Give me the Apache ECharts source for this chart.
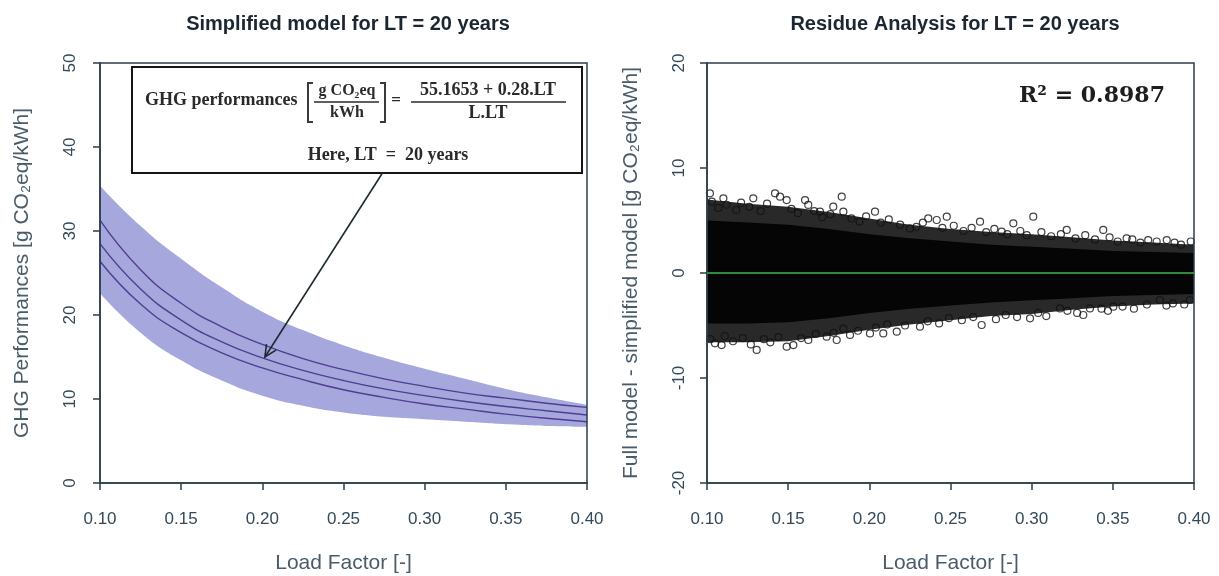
<!DOCTYPE html>
<html>
<head>
<meta charset="utf-8">
<script src="https://cdn.jsdelivr.net/npm/echarts@6/dist/echarts.min.js"></script>
<style>html,body{margin:0;padding:0;background:#fff}#c{width:1219px;height:576px}</style>
</head>
<body>
<div id="c"></div>
<script>
// ---------- DATA ----------
const titleLeft = 'Simplified model for LT = 20 years';
const titleRight = 'Residue Analysis for LT = 20 years';
const xTitle = 'Load Factor [-]';
const yTitleLeft = 'GHG Performances [g CO\u2082eq/kWh]';
const yTitleRight = 'Full model - simplified model [g CO\u2082eq/kWh]';
const r2Text = 'R\u00B2 = 0.8987';

const loadFactor = [0.10,0.125,0.15,0.175,0.20,0.225,0.25,0.275,0.30,0.325,0.35,0.375,0.40];
const bandUpper = [35.4,30.6,26.7,23.3,20.4,18.2,16.4,14.9,13.6,12.4,11.2,10.2,9.3];
const bandLower = [22.6,17.9,14.6,12.2,10.4,9.2,8.4,7.9,7.6,7.3,7.0,6.8,6.7];
const lineTop   = [31.3,25.4,21.4,18.6,16.5,14.8,13.5,12.4,11.5,10.7,10.1,9.5,9.0];
const lineMid   = [28.5,23.1,19.4,16.8,14.9,13.4,12.2,11.2,10.4,9.7,9.1,8.6,8.1];
const lineLow   = [26.4,21.3,17.9,15.5,13.7,12.3,11.1,10.2,9.4,8.8,8.2,7.7,7.3];
const arrowFrom = [0.2743, 37.0];
const arrowTo   = [0.2016, 15.0];

// residual cloud: dense envelope + visible individual circles
const cloudOuterUpper = [7.0,6.6,6.3,5.8,5.2,4.6,4.2,3.9,3.7,3.4,3.1,2.9,2.7];
const cloudOuterLower = [-6.6,-6.6,-6.5,-6.0,-5.4,-4.9,-4.5,-4.1,-3.9,-3.5,-3.2,-3.0,-2.9];
const cloudCoreUpper  = [5.0,4.8,4.6,4.2,3.7,3.3,3.0,2.7,2.5,2.3,2.1,2.0,1.9];
const cloudCoreLower  = [-4.8,-4.8,-4.7,-4.3,-3.8,-3.4,-3.1,-2.8,-2.6,-2.4,-2.2,-2.1,-2.0];
const residualPoints = [
 [0.1018,7.59],[0.1101,7.11],[0.1285,7.11],[0.1419,7.59],[0.145,7.27],[0.1491,6.95],[0.1604,6.95],
 [0.1624,6.48],[0.1696,5.84],[0.1778,6.32],[0.183,7.27],[0.184,5.84],[0.2035,5.84],[0.225,4.25],
 [0.2363,5.2],[0.2415,5.05],[0.2477,5.36],[0.2682,4.89],[0.2815,3.94],[0.2887,4.73],[0.301,5.36],
 [0.3216,4.1],[0.3441,4.1],[0.3585,3.3],[0.3718,3.14],[0.3832,3.14],
 [0.1049,-6.7],[0.109,-6.86],[0.1306,-7.33],[0.1491,-7.02],[0.1532,-6.86],[0.1624,-6.38],[0.1737,-6.06],
 [0.1799,-6.38],[0.1881,-5.9],[0.2004,-5.75],[0.2086,-5.75],[0.2169,-5.59],[0.2312,-5.11],[0.2692,-4.95],
 [0.299,-4.32],[0.3174,-3.37],[0.3318,-4.0],[0.3359,-3.37],[0.3503,-3.21],[0.379,-2.57],[0.3975,-2.57],
 [0.103,6.8],[0.107,6.2],[0.112,6.5],[0.118,6.0],[0.121,6.7],[0.126,6.3],[0.133,5.9],[0.137,6.6],
 [0.152,6.1],[0.156,5.7],[0.166,5.9],[0.171,5.3],[0.176,5.6],[0.189,5.2],[0.194,4.9],[0.198,5.4],
 [0.207,4.8],[0.212,5.1],[0.219,4.6],[0.229,4.4],[0.233,4.8],[0.245,4.3],[0.252,4.5],[0.258,4.0],
 [0.263,4.3],[0.272,3.9],[0.277,4.2],[0.285,3.7],[0.293,4.0],[0.297,3.6],[0.306,3.9],[0.312,3.5],
 [0.318,3.7],[0.327,3.3],[0.333,3.6],[0.339,3.2],[0.348,3.4],[0.353,3.0],[0.362,3.2],[0.367,2.9],
 [0.377,3.0],[0.388,2.9],[0.392,2.7],[0.398,3.0],
 [0.102,-6.3],[0.111,-6.0],[0.116,-6.5],[0.122,-6.2],[0.127,-6.8],[0.135,-6.3],[0.139,-6.6],[0.144,-6.1],
 [0.158,-6.2],[0.167,-5.8],[0.178,-5.7],[0.184,-5.3],[0.193,-5.5],[0.204,-5.2],[0.211,-4.9],[0.222,-5.0],
 [0.236,-4.6],[0.243,-4.8],[0.249,-4.3],[0.257,-4.5],[0.264,-4.2],[0.278,-4.4],[0.284,-4.0],[0.291,-4.2],
 [0.304,-3.8],[0.309,-4.1],[0.322,-3.6],[0.328,-3.8],[0.343,-3.4],[0.347,-3.6],[0.356,-3.2],[0.363,-3.4],
 [0.371,-3.0],[0.383,-3.1],[0.387,-2.9],[0.394,-3.0]
];
const zeroLineX = [0.10, 0.40];
const zeroLineY = [0, 0];

// ---------- CHART ----------
const axisCol = '#2b3e4a';
const labelCol = '#34495a';
const nameCol = '#4a5b69';
const sans = '"Liberation Sans", Arial, "DejaVu Sans", sans-serif';
const serif = '"Liberation Serif", "DejaVu Serif", serif';

function xAxisDef(gi) {
  return {
    type: 'value', gridIndex: gi, min: 0.1, max: 0.4, interval: 0.05, z: 10,
    name: xTitle, nameLocation: 'middle', nameGap: 70,
    nameTextStyle: { fontFamily: sans, fontSize: 21, color: nameCol, verticalAlign: 'top' },
    axisLine: { show: true, onZero: false, lineStyle: { color: axisCol, width: 1.5 } },
    axisTick: { show: true, inside: false, length: 7, lineStyle: { color: axisCol, width: 1.5 } },
    axisLabel: { formatter: v => v.toFixed(2), margin: 28, fontFamily: sans, fontSize: 17, color: labelCol, verticalAlign: 'top', showMinLabel: true, showMaxLabel: true },
    splitLine: { show: false }
  };
}
function yAxisDef(gi, min, max, name, gap, lm) {
  return {
    type: 'value', gridIndex: gi, min: min, max: max, interval: 10, z: 10,
    name: name, nameLocation: 'middle', nameGap: gap,
    nameTextStyle: { fontFamily: sans, fontSize: 21, color: nameCol },
    axisLine: { show: true, onZero: false, lineStyle: { color: axisCol, width: 1.5 } },
    axisTick: { show: true, inside: false, length: 7, lineStyle: { color: axisCol, width: 1.5 } },
    axisLabel: { rotate: 90, margin: lm, fontFamily: sans, fontSize: 17, color: labelCol, showMinLabel: true, showMaxLabel: true },
    splitLine: { show: false }
  };
}
function polyBand(gi, xs, lo, hi, color, opacity, z) {
  return {
    type: 'custom', xAxisIndex: gi, yAxisIndex: gi, silent: true, z: z, clip: true,
    data: xs.map((x, i) => [x, lo[i], hi[i]]),
    encode: { x: 0, y: [1, 2] },
    renderItem: function (params, api) {
      if (params.dataIndex !== 0) return null;
      const pts = [];
      for (let i = 0; i < xs.length; i++) pts.push(api.coord([xs[i], hi[i]]));
      for (let i = xs.length - 1; i >= 0; i--) pts.push(api.coord([xs[i], lo[i]]));
      return { type: 'polygon', shape: { points: pts }, style: { fill: color, opacity: opacity } };
    }
  };
}
function curve(data, color) {
  return {
    type: 'line', xAxisIndex: 0, yAxisIndex: 0, smooth: true, symbol: 'none', silent: true, z: 4,
    data: loadFactor.map((x, i) => [x, data[i]]),
    lineStyle: { color: color, width: 1.4 }
  };
}

const chart = echarts.init(document.getElementById('c'), null, { renderer: 'canvas' });
const option = {
  backgroundColor: '#ffffff',
  animation: false,
  title: [
    { text: titleLeft, left: 343, top: 9, textAlign: 'center', textStyle: { fontFamily: sans, fontSize: 20, fontWeight: 'bold', color: '#1b2630' } },
    { text: titleRight, left: 950, top: 9, textAlign: 'center', textStyle: { fontFamily: sans, fontSize: 20, fontWeight: 'bold', color: '#1b2630' } }
  ],
  grid: [
    { left: 100, width: 487, top: 63, height: 420, show: true, z: 10, outerBoundsMode: 'none', containLabel: false, borderColor: axisCol, borderWidth: 1.5, backgroundColor: 'transparent' },
    { left: 707, width: 487, top: 63, height: 420, show: true, z: 10, outerBoundsMode: 'none', containLabel: false, borderColor: axisCol, borderWidth: 1.5, backgroundColor: 'transparent' }
  ],
  xAxis: [xAxisDef(0), xAxisDef(1),
    // hidden evenly spaced category axis carrying the stacked band (same positions as loadFactor)
    { type: 'category', gridIndex: 0, data: loadFactor.map(String), boundaryGap: false, show: false }
  ],
  yAxis: [yAxisDef(0, 0, 50, yTitleLeft, 67, 21), yAxisDef(1, -20, 20, yTitleRight, 65, 19)],
  series: [
    // left: uncertainty band (stacked)
    { type: 'line', xAxisIndex: 2, yAxisIndex: 0, stack: 'band', smooth: true, symbol: 'none', silent: true, z: 2,
      data: bandLower, lineStyle: { opacity: 0 } },
    { type: 'line', xAxisIndex: 2, yAxisIndex: 0, stack: 'band', smooth: true, symbol: 'none', silent: true, z: 2,
      data: bandUpper.map((u, i) => +(u - bandLower[i]).toFixed(3)), lineStyle: { opacity: 0 },
      areaStyle: { color: '#a6a7dd', opacity: 1 } },
    curve(lineTop, '#4f3e92'),
    curve(lineMid, '#4f3e92'),
    curve(lineLow, '#4f3e92'),
    // arrow
    { type: 'custom', xAxisIndex: 0, yAxisIndex: 0, silent: true, z: 20, clip: false,
      data: [[arrowFrom[0], arrowFrom[1], arrowTo[0], arrowTo[1]]],
      encode: { x: [0, 2], y: [1, 3] },
      renderItem: function (params, api) {
        const p0 = api.coord([api.value(0), api.value(1)]);
        const p1 = api.coord([api.value(2), api.value(3)]);
        const ang = Math.atan2(p0[1] - p1[1], p0[0] - p1[0]);
        const L = 13, a = Math.PI / 7;
        const h1 = [p1[0] + L * Math.cos(ang + a), p1[1] + L * Math.sin(ang + a)];
        const h2 = [p1[0] + L * Math.cos(ang - a), p1[1] + L * Math.sin(ang - a)];
        const st = { stroke: '#1d2a32', lineWidth: 1.6, fill: null };
        return { type: 'group', children: [
          { type: 'line', shape: { x1: p0[0], y1: p0[1], x2: p1[0], y2: p1[1] }, style: st },
          { type: 'polyline', shape: { points: [h1, p1, h2] }, style: st }
        ] };
      }
    },
    // right: residual cloud
    polyBand(1, loadFactor, cloudOuterLower, cloudOuterUpper, '#121212', 0.9, 2),
    polyBand(1, loadFactor, cloudCoreLower, cloudCoreUpper, '#050505', 1, 3),
    { type: 'scatter', xAxisIndex: 1, yAxisIndex: 1, silent: true, z: 5, symbol: 'circle', symbolSize: 7,
      data: residualPoints,
      itemStyle: { color: 'rgba(255,255,255,0)', borderColor: '#121212', borderWidth: 1.2 } },
    { type: 'line', xAxisIndex: 1, yAxisIndex: 1, silent: true, z: 10, symbol: 'none',
      data: zeroLineX.map((x, i) => [x, zeroLineY[i]]),
      lineStyle: { color: '#2f8a3c', width: 2.2 } }
  ],
  graphic: [
    { type: 'rect', z: 15, shape: { x: 132, y: 67, width: 450, height: 106 },
      style: { fill: '#ffffff', stroke: '#151515', lineWidth: 2 } },
    { type: 'text', z: 16, x: 145, y: 100, style: { text: 'GHG performances', font: 'bold 18px ' + serif, fill: '#2a2a2a', textAlign: 'left', textVerticalAlign: 'middle' } },
    { type: 'polyline', z: 16, shape: { points: [[313, 83], [308, 83], [308, 122], [313, 122]] }, style: { stroke: '#3a3a3a', lineWidth: 2, fill: null } },
    { type: 'polyline', z: 16, shape: { points: [[380, 83], [385, 83], [385, 122], [380, 122]] }, style: { stroke: '#3a3a3a', lineWidth: 2, fill: null } },
    { type: 'text', z: 16, x: 347, y: 91, style: { text: 'g CO\u2082eq', font: 'bold 16px ' + serif, fill: '#2a2a2a', textAlign: 'center', textVerticalAlign: 'middle' } },
    { type: 'line', z: 16, shape: { x1: 314, y1: 102, x2: 379, y2: 102 }, style: { stroke: '#2a2a2a', lineWidth: 1.5 } },
    { type: 'text', z: 16, x: 347, y: 113, style: { text: 'kWh', font: 'bold 16px ' + serif, fill: '#2a2a2a', textAlign: 'center', textVerticalAlign: 'middle' } },
    { type: 'text', z: 16, x: 396, y: 101, style: { text: '=', font: 'bold 17px ' + serif, fill: '#2a2a2a', textAlign: 'center', textVerticalAlign: 'middle' } },
    { type: 'text', z: 16, x: 488, y: 90, style: { text: '55.1653 + 0.28.LT', font: 'bold 18px ' + serif, fill: '#2a2a2a', textAlign: 'center', textVerticalAlign: 'middle' } },
    { type: 'line', z: 16, shape: { x1: 411, y1: 102, x2: 566, y2: 102 }, style: { stroke: '#2a2a2a', lineWidth: 1.5 } },
    { type: 'text', z: 16, x: 488, y: 113, style: { text: 'L.LT', font: 'bold 18px ' + serif, fill: '#2a2a2a', textAlign: 'center', textVerticalAlign: 'middle' } },
    { type: 'text', z: 16, x: 388, y: 155, style: { text: 'Here, LT  =  20 years', font: 'bold 18px ' + serif, fill: '#2a2a2a', textAlign: 'center', textVerticalAlign: 'middle' } },
    { type: 'text', z: 16, x: 1092, y: 96, style: { text: r2Text, font: 'bold 22px "DejaVu Serif", serif', fill: '#1e1e1e', textAlign: 'center', textVerticalAlign: 'middle' } }
  ]
};
chart.setOption(option);
</script>
</body>
</html>
